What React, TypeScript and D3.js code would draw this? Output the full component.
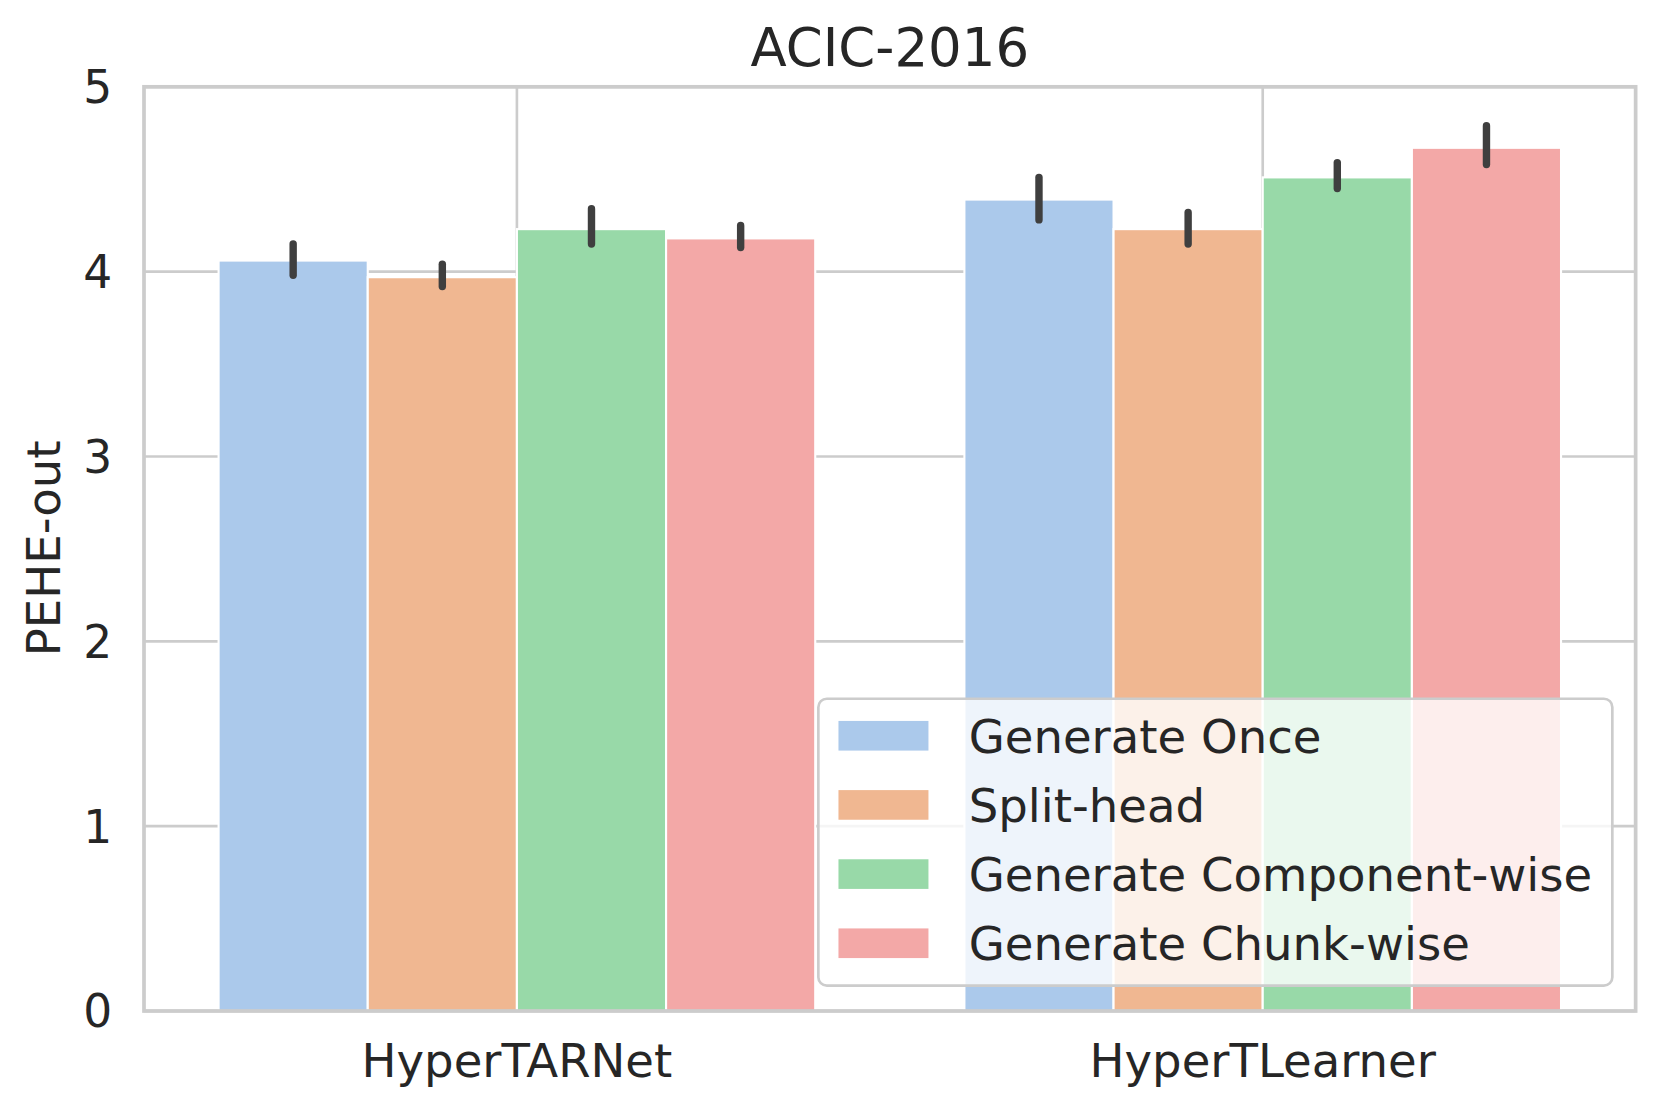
import React, { useEffect, useRef } from 'react';
import * as d3 from 'd3';

const categories = ['HyperTARNet', 'HyperTLearner'];
const methods = ['Generate Once', 'Split-head', 'Generate Component-wise', 'Generate Chunk-wise'];
const colors = ['#abc9eb', '#f0b791', '#98d9a8', '#f3a8a7'];

// mean values per method, one entry per category
const meanOnce = [4.06, 4.39];
const meanSplit = [3.97, 4.23];
const meanComponent = [4.23, 4.51];
const meanChunk = [4.18, 4.67];

// error bar ends (low, high)
const errLow = [
  [3.98, 4.28],
  [3.92, 4.15],
  [4.15, 4.45],
  [4.13, 4.58],
];
const errHigh = [
  [4.15, 4.51],
  [4.04, 4.32],
  [4.34, 4.59],
  [4.25, 4.79],
];

const yTicks = [0, 1, 2, 3, 4, 5];

const FONT = '"DejaVu Sans", sans-serif';

function App() {
  const ref = useRef<SVGSVGElement>(null);

  useEffect(() => {
    document.body.style.margin = '0';
    const svg = d3.select(ref.current);
    svg.selectAll('*').remove();

    const means = [meanOnce, meanSplit, meanComponent, meanChunk];
    const margin = { left: 136, right: 1545, top: 82, bottom: 955 };

    const x = d3
      .scaleBand()
      .domain(categories)
      .range([margin.left, margin.right])
      .paddingInner(0.2)
      .paddingOuter(0.1);
    const xs = d3.scaleBand().domain(methods).range([0, x.bandwidth()]);
    const y = d3.scaleLinear().domain([0, 5]).range([margin.bottom, margin.top]);

    // grid
    const grid = svg.append('g');
    grid
      .selectAll('line.h')
      .data(yTicks)
      .enter()
      .append('line')
      .attr('x1', margin.left)
      .attr('x2', margin.right)
      .attr('y1', (d) => y(d))
      .attr('y2', (d) => y(d))
      .attr('stroke', '#cccccc')
      .attr('stroke-width', 2.5);
    grid
      .selectAll('line.v')
      .data(categories)
      .enter()
      .append('line')
      .attr('x1', (d) => x(d)! + x.bandwidth() / 2)
      .attr('x2', (d) => x(d)! + x.bandwidth() / 2)
      .attr('y1', margin.top)
      .attr('y2', margin.bottom)
      .attr('stroke', '#cccccc')
      .attr('stroke-width', 2.5);

    // bars
    methods.forEach((m, i) => {
      const g = svg.append('g');
      g.selectAll('rect')
        .data(categories)
        .enter()
        .append('rect')
        .attr('x', (c) => x(c)! + xs(m)!)
        .attr('width', xs.bandwidth())
        .attr('y', (c, j) => y(means[i][j]))
        .attr('height', (c, j) => y(0) - y(means[i][j]))
        .attr('fill', colors[i])
        .attr('stroke', '#ffffff')
        .attr('stroke-width', 2);
    });

    // error bars
    methods.forEach((m, i) => {
      svg
        .append('g')
        .selectAll('line')
        .data(categories)
        .enter()
        .append('line')
        .attr('x1', (c) => x(c)! + xs(m)! + xs.bandwidth() / 2)
        .attr('x2', (c) => x(c)! + xs(m)! + xs.bandwidth() / 2)
        .attr('y1', (c, j) => y(errLow[i][j]))
        .attr('y2', (c, j) => y(errHigh[i][j]))
        .attr('stroke', '#3f3f3f')
        .attr('stroke-width', 7)
        .attr('stroke-linecap', 'round');
    });

    // spines
    svg
      .append('rect')
      .attr('x', margin.left)
      .attr('y', margin.top)
      .attr('width', margin.right - margin.left)
      .attr('height', margin.bottom - margin.top)
      .attr('fill', 'none')
      .attr('stroke', '#cccccc')
      .attr('stroke-width', 3.5);

    // y tick labels
    svg
      .append('g')
      .selectAll('text')
      .data(yTicks)
      .enter()
      .append('text')
      .attr('x', margin.left - 30)
      .attr('y', (d) => y(d))
      .attr('dy', '0.36em')
      .attr('text-anchor', 'end')
      .attr('font-family', FONT)
      .attr('font-size', 43)
      .attr('fill', '#262626')
      .text((d) => d);

    // x tick labels
    svg
      .append('g')
      .selectAll('text')
      .data(categories)
      .enter()
      .append('text')
      .attr('x', (d) => x(d)! + x.bandwidth() / 2)
      .attr('y', 1017)
      .attr('text-anchor', 'middle')
      .attr('font-family', FONT)
      .attr('font-size', 44)
      .attr('fill', '#262626')
      .text((d) => d);

    // y label
    svg
      .append('text')
      .attr('transform', `translate(57,518) rotate(-90)`)
      .attr('text-anchor', 'middle')
      .attr('font-family', FONT)
      .attr('font-size', 44)
      .attr('fill', '#262626')
      .text('PEHE-out');

    // title
    svg
      .append('text')
      .attr('x', (margin.left + margin.right) / 2)
      .attr('y', 62)
      .attr('text-anchor', 'middle')
      .attr('font-family', FONT)
      .attr('font-size', 50)
      .attr('fill', '#262626')
      .text('ACIC-2016');

    // legend
    const lg = svg.append('g').attr('transform', 'translate(773,660)');
    lg.append('rect')
      .attr('width', 750)
      .attr('height', 271)
      .attr('rx', 8)
      .attr('fill', '#ffffff')
      .attr('fill-opacity', 0.8)
      .attr('stroke', '#cccccc')
      .attr('stroke-width', 2.5);
    const rowY = d3.scaleLinear().domain([0, 3]).range([35, 231]);
    methods.forEach((m, i) => {
      lg.append('rect')
        .attr('x', 19)
        .attr('y', rowY(i) - 14)
        .attr('width', 85)
        .attr('height', 28)
        .attr('fill', colors[i]);
      lg.append('text')
        .attr('x', 142)
        .attr('y', rowY(i))
        .attr('dy', '0.36em')
        .attr('font-family', FONT)
        .attr('font-size', 44)
        .attr('fill', '#262626')
        .text(m);
    });
  }, []);

  return <svg ref={ref} width={1660} height={1112} viewBox="0 0 1568 1050.4" style={{ display: 'block' }} />;
}

export default App;
